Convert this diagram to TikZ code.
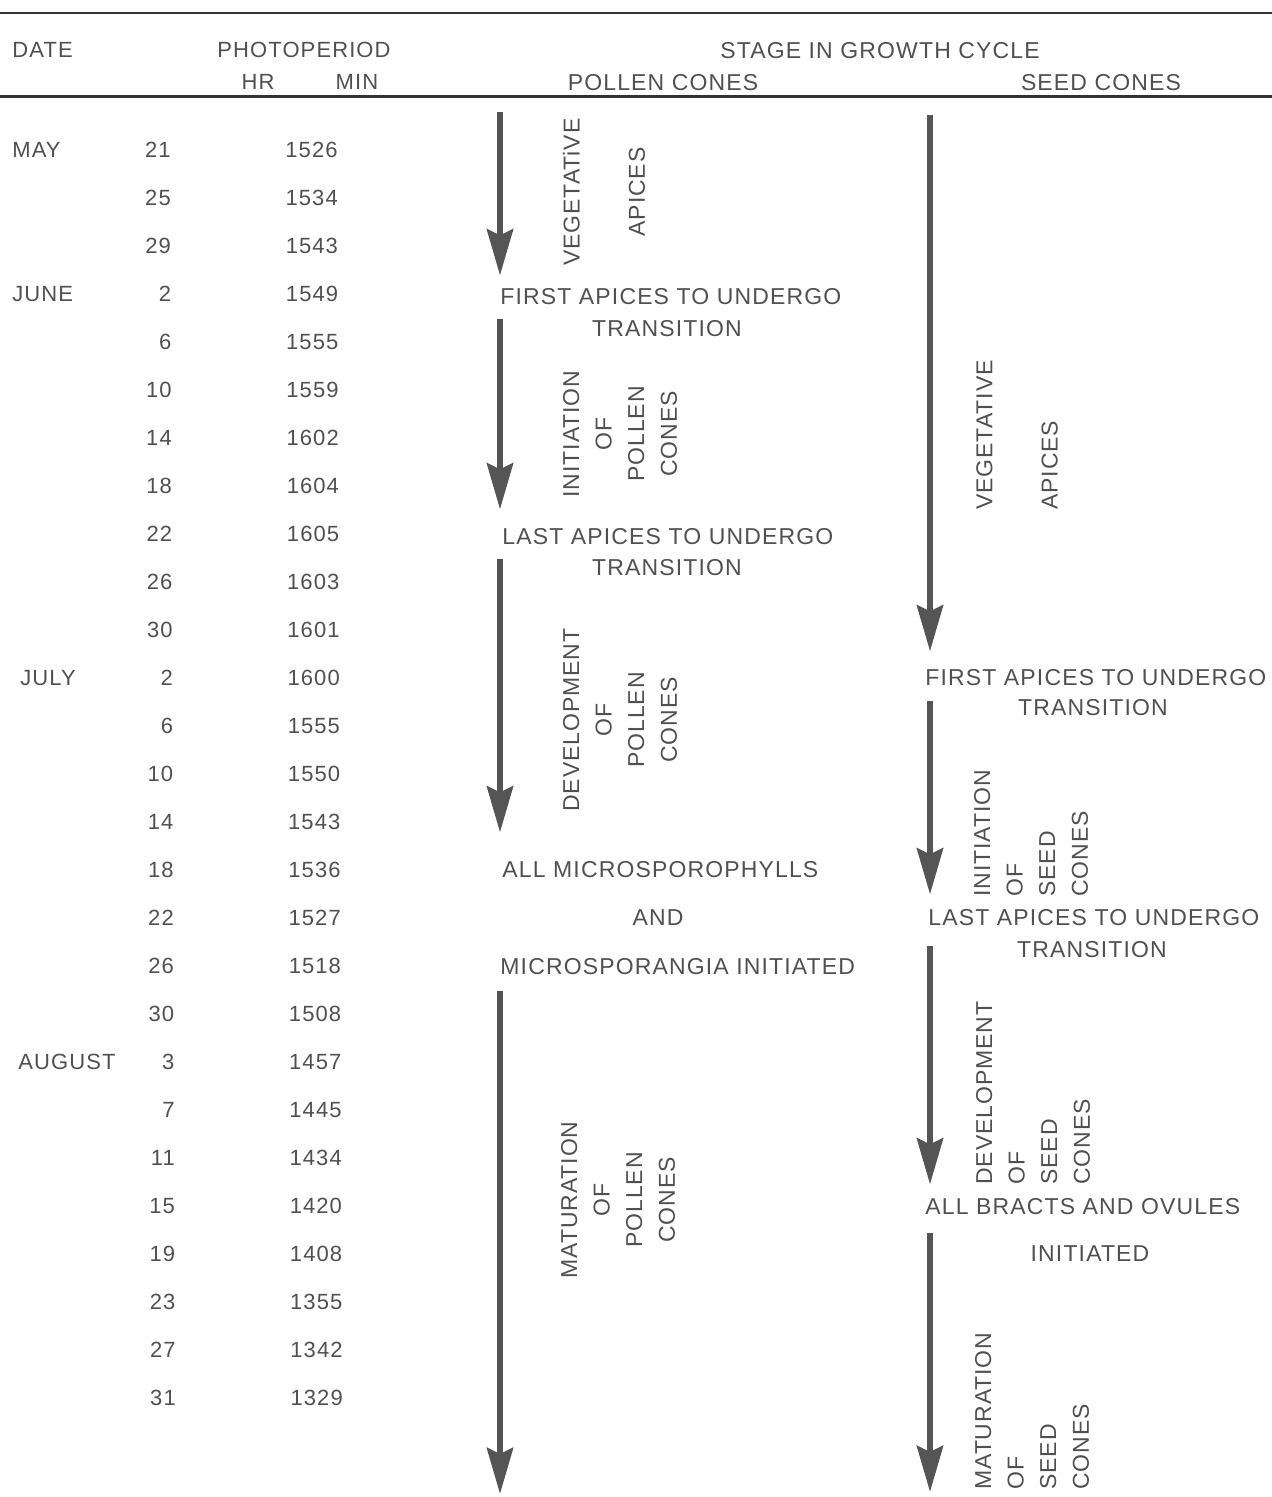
\documentclass[tikz,border=0pt]{standalone}
\usepackage{fontspec}
\usetikzlibrary{arrows.meta}
\newfontfamily\tabfont[LetterSpace=5]{Liberation Sans}
\newfontfamily\stagefont[LetterSpace=5]{Liberation Sans}
\newfontfamily\sidefont[LetterSpace=4]{Liberation Sans}
\definecolor{inkgray}{RGB}{80,80,80}
\definecolor{arrowgray}{RGB}{85,85,85}
\definecolor{rulegray}{RGB}{50,50,50}
\tikzset{
tabtext/.style={inner sep=0pt, text=inkgray, font=\tabfont\fontsize{11}{13}\selectfont, text height=7.9pt, text depth=0pt},
stagetext/.style={inner sep=0pt, text=inkgray, font=\stagefont\fontsize{11.5}{13}\selectfont, text height=8.2pt, text depth=0pt},
sidetext/.style={inner sep=0pt, text=inkgray, font=\sidefont\fontsize{11.5}{16.3}\selectfont, rotate=90},
stagearrow/.style={draw=arrowgray, line width=3.2pt, -{Stealth[length=23pt,width=13pt,inset=3pt]}},
tablerule/.style={draw=rulegray, line width=1.2pt},
}

\begin{document}
\begin{tikzpicture}[x=0.5pt, y=-0.5pt]
    \useasboundingbox (0,0) rectangle (1272,1497);

    %rules and heading
    \coordinate (rl1) at (0,13);
    \coordinate (rr1) at (1272,13);
    \coordinate (rl2) at (0,97);
    \coordinate (rr2) at (1272,97);
    \draw[tablerule] (rl1) -- (rr1);
    \draw[tablerule, line width=1.5pt] (rl2) -- (rr2);
    \node[tabtext, anchor=west] (date) at (12,50) {DATE};
    \node[tabtext] (photo) at (304,50) {PHOTOPERIOD};
    \node[tabtext] (hr) at (258,82) {HR};
    \node[tabtext] (min) at (357,82) {MIN};
    \node[stagetext] (stage) at (880,50) {STAGE IN GROWTH CYCLE};
    \node[stagetext] (pollen) at (663,82) {POLLEN CONES};
    \node[stagetext] (seed) at (1101,82) {SEED CONES};

    %months
    \node[tabtext, anchor=west] (may) at (12,150) {MAY};
    \node[tabtext, anchor=west] (june) at (12,294) {JUNE};
    \node[tabtext, anchor=west] (july) at (20,678) {JULY};
    \node[tabtext, anchor=west] (august) at (18,1062) {AUGUST};

    %days and photoperiod
    \foreach \d/\m [count=\i from 0] in {21/1526, 25/1534, 29/1543, 2/1549, 6/1555,
        10/1559, 14/1602, 18/1604, 22/1605, 26/1603, 30/1601, 2/1600, 6/1555,
        10/1550, 14/1543, 18/1536, 22/1527, 26/1518, 30/1508, 3/1457, 7/1445,
        11/1434, 15/1420, 19/1408, 23/1355, 27/1342, 31/1329}{
        \node[tabtext, anchor=east] (day\i) at ({171+0.2*\i},{150+48*\i}) {\d};
        \node[tabtext, anchor=east] (mins\i) at ({338+0.2*\i},{150+48*\i}) {\m};
    }

    %pollen cones: stages
    \node[stagetext, anchor=west] (pfirst) at (500,296) {FIRST APICES TO UNDERGO};
    \node[stagetext] (ptrans1) at (667,328) {TRANSITION};
    \node[stagetext, anchor=west] (plast) at (502,536) {LAST APICES TO UNDERGO};
    \node[stagetext] (ptrans2) at (667,567) {TRANSITION};
    \node[stagetext, anchor=west] (pall) at (502,869) {ALL MICROSPOROPHYLLS};
    \node[stagetext] (pand) at (658,917) {AND};
    \node[stagetext, anchor=west] (pmicro) at (500,966) {MICROSPORANGIA INITIATED};

    %pollen cones: periods
    \node[sidetext, align=center] (pveg) at (604,192) {VEGETATiVE\\[16.3pt]APICES};
    \node[sidetext, align=center] (pinit) at (620,434) {INITIATION\\OF\\POLLEN\\CONES};
    \node[sidetext, align=center] (pdev) at (620,720) {DEVELOPMENT\\OF\\POLLEN\\CONES};
    \node[sidetext, align=center] (pmat) at (618,1200) {MATURATION\\OF\\POLLEN\\CONES};

    %pollen cones: arrows
    \coordinate (ptop) at (500,112);
    \coordinate (pbot) at (500,1494);
    \draw[stagearrow] (ptop) -- ([yshift=6pt]ptop |- pfirst.north);
    \draw[stagearrow] ([yshift=-7pt]ptop |- pfirst.south) -- ([yshift=9pt]ptop |- plast.north);
    \draw[stagearrow] ([yshift=-7pt]ptop |- plast.south) -- ([yshift=14pt]ptop |- pall.north);
    \draw[stagearrow] ([yshift=-8pt]ptop |- pmicro.south) -- (pbot);

    %seed cones: stages
    \node[stagetext, anchor=west] (sfirst) at (925,677) {FIRST APICES TO UNDERGO};
    \node[stagetext] (strans1) at (1093,707) {TRANSITION};
    \node[stagetext, anchor=west] (slast) at (928,917) {LAST APICES TO UNDERGO};
    \node[stagetext] (strans2) at (1092,949) {TRANSITION};
    \node[stagetext, anchor=west] (sall) at (925,1206) {ALL BRACTS AND OVULES};
    \node[stagetext] (sinit) at (1090,1253) {INITIATED};

    %seed cones: periods
    \node[sidetext, align=left, anchor=west] (sveg) at (1017,510) {VEGETATIVE\\[16.3pt]APICES};
    \node[sidetext, align=left, anchor=west] (sinit) at (1031,897) {INITIATION\\OF\\SEED\\CONES};
    \node[sidetext, align=left, anchor=west] (sdev) at (1033,1185) {DEVELOPMENT\\OF\\SEED\\CONES};
    \node[sidetext, align=left, anchor=west] (smat) at (1032,1490) {MATURATION\\OF\\SEED\\CONES};

    %seed cones: arrows
    \coordinate (stop) at (930,115);
    \coordinate (sbot) at (930,1492);
    \draw[stagearrow] (stop) -- ([yshift=8.5pt]stop |- sfirst.north);
    \draw[stagearrow] ([yshift=-7.5pt]stop |- sfirst.south) -- ([yshift=7pt]stop |- slast.north);
    \draw[stagearrow] ([yshift=-10pt]stop |- slast.south) -- ([yshift=6.5pt]stop |- sall.north);
    \draw[stagearrow] ([yshift=-9pt]stop |- sall.south) -- (sbot);

\end{tikzpicture}
\end{document}
